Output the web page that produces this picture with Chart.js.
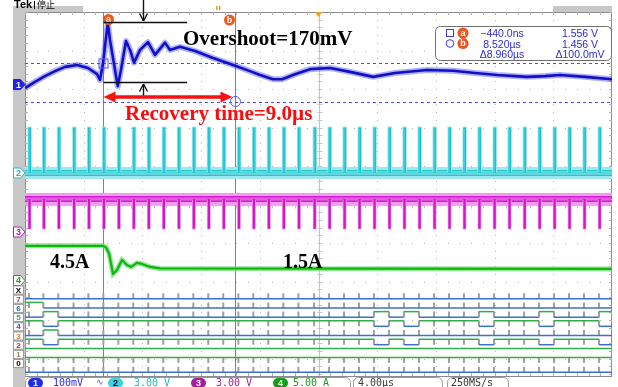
<!DOCTYPE html>
<html>
<head>
<meta charset="utf-8">
<script src="https://cdn.jsdelivr.net/npm/chart.js@4.4.0/dist/chart.umd.min.js"></script>
<style>
  html, body { margin: 0; padding: 0; background: #fff; }
  #wrap { width: 618px; height: 387px; position: relative; }
</style>
</head>
<body>
<div id="wrap"><canvas id="scope" width="618" height="387"></canvas></div>
<script>
// --- time window (µs), 4 µs/div, and the cursor readout ---
const X_MIN = -5.76, X_MAX = 34.24;
const US_PER_DIV = 4;
const CURSOR_TIMES_US = [-0.44, 8.52];
const CURSOR_LEVELS_V = [1.556, 1.456];

// CH1 output voltage (100 mV/div)
const CH1_TIME_US = [-5.76, -5.08, -4.40, -3.71, -3.03, -2.21, -1.47, -0.85, -0.65, -0.44, -0.12, 0.03, 0.56, 0.78, 1.12,
  1.40, 1.67, 2.08, 2.62, 3.10, 3.78, 4.12, 4.80, 5.83, 7.05, 8.42, 9.57, 10.26, 11.14, 11.76,
  12.64, 13.66, 15.03, 16.39, 17.96, 19.46, 21.64, 23.41, 24.91, 26.41, 28.45, 29.68, 30.70, 32.40, 34.24];
const CH1_VOLTS = [1.491, 1.507, 1.522, 1.535, 1.546, 1.551, 1.543, 1.527, 1.512, 1.556, 1.661, 1.616, 1.496, 1.538, 1.613,
  1.590, 1.557, 1.590, 1.610, 1.577, 1.609, 1.590, 1.598, 1.587, 1.569, 1.551, 1.535, 1.525, 1.514, 1.514,
  1.527, 1.540, 1.543, 1.533, 1.520, 1.530, 1.538, 1.536, 1.530, 1.525, 1.520, 1.522, 1.525, 1.520, 1.514];
const CH1_OFFSET_V = 1.50;

// CH4 load current (5 A/div)
const CH4_TIME_US = [-5.76, -0.44, -0.24, -0.03, 0.24, 0.51, 0.85, 1.19, 1.47, 1.87, 2.21, 2.76, 3.44, 34.24];
const CH4_AMPS = [4.5, 4.5, 4.3, 3.5, 0.85, 1.37, 2.67, 2.02, 1.76, 2.28, 2.15, 1.76, 1.57, 1.5];

// switching edges seen on CH2 / CH3 and the digital bus (µs)
const PULSE_TIMES_US = [-5.49, -4.51, -3.49, -2.45, -1.44, -0.42, 0.60, 1.62, 2.64, 3.66, 4.69, 5.71, 6.73,
  7.75, 8.78, 9.80, 10.82, 11.84, 12.87, 13.94, 14.96, 15.98, 17.00, 18.02, 19.04, 20.06, 21.09,
  22.11, 23.13, 24.15, 25.17, 26.20, 27.22, 28.25, 29.27, 30.29, 31.31, 32.33, 33.36];
const CH2_LEVELS_V = [0, 3.5];    // low, pulse top (3 V/div)
const CH3_LEVELS_V = [2.57, 0.3]; // rest, spike bottom (3 V/div)
const CH2_PULSE_US = 0.1;
const CH3_PULSE_US = 0.08;

// digital channels: spans (µs) where each line is high
const D_LABELS = ['0', '1', '2', '3', '4', '5', '6', '7', 'X'];
const D0_HIGH = [];
const D1_HIGH = [[X_MIN, X_MAX]];
const D2_HIGH = [[X_MIN, X_MAX]];
const D3_HIGH = [[X_MIN, -4.51], [-3.49, 18.02], [19.04, 20.06], [21.09, 25.17], [26.20, 29.27], [30.29, 33.36]];
const D4_HIGH = [[-4.51, -3.49]];
const D5_HIGH = [[X_MIN, -4.51], [-3.49, 18.02], [19.04, 20.06], [21.09, 25.17], [26.20, 29.27], [30.29, 33.36]];
const D6_HIGH = [[-4.51, -3.49], [18.02, 19.04], [20.06, 21.09], [25.17, 26.20], [29.27, 30.29], [33.36, X_MAX]];
const D7_HIGH = [[X_MIN, -4.51]];
const DX_HIGH = [];
const D_TICK_ROWS = [0, 1, 3, 4, 5, 6, 7, 8];

// annotation levels
const OVERSHOOT_PEAK_V = 1.662, OVERSHOOT_BASE_V = 1.507;
const BRACKET_END_US = 5.28, BRACKET_ARROW_US = 2.28;
const RECOVERY_ARROW_V = 1.468;

const V_DIVS = 9.4545; // visible graticule height in divisions
function chAxis(perDiv, refValue, refDivFromTop) {
  return { type: 'linear', display: false, bounds: 'data',
    min: refValue - (V_DIVS - refDivFromTop) * perDiv,
    max: refValue + refDivFromTop * perDiv };
}

const pts = (xs, ys) => xs.map((x, i) => ({ x, y: ys[i] }));
function pulses(times, width, base, peak) {
  const out = [{ x: X_MIN, y: base }];
  times.forEach(t => out.push({ x: t, y: base }, { x: t, y: peak }, { x: t + width, y: peak }, { x: t + width, y: base }));
  out.push({ x: X_MAX, y: base });
  return out;
}
function dRow(k, spans) {
  const lo = k + 0.4, hi = k + 1.0;
  const out = [{ x: X_MIN, y: lo }];
  spans.forEach(([a, b]) => out.push({ x: a, y: lo }, { x: a, y: hi }, { x: b, y: hi }, { x: b, y: lo }));
  out.push({ x: X_MAX, y: lo });
  return out;
}
function dTicks() {
  const out = [];
  D_TICK_ROWS.forEach(k => PULSE_TIMES_US.forEach(t => out.push({ x: t, y: k + 0.4 }, { x: t, y: k + 1.0 }, { x: t, y: null })));
  return out;
}

function mk(data, axis, color, width, order, extra) {
  return Object.assign({ data, yAxisID: axis, borderColor: color, borderWidth: width, order,
    pointRadius: 0, fill: false, tension: 0, spanGaps: false, borderCapStyle: 'butt' }, extra || {});
}

const D_ALL = [D0_HIGH, D1_HIGH, D2_HIGH, D3_HIGH, D4_HIGH, D5_HIGH, D6_HIGH, D7_HIGH, DX_HIGH];
const datasets = [
  mk(pts(CH1_TIME_US, CH1_VOLTS), 'y1', 'rgba(80,80,245,0.45)', 6, 30, { borderJoinStyle: 'round' }),
  mk(pts(CH1_TIME_US, CH1_VOLTS), 'y1', '#1010c4', 2.6, 10, { borderJoinStyle: 'round' }),
  mk([{ x: X_MIN, y: CH2_LEVELS_V[0] }, { x: X_MAX, y: CH2_LEVELS_V[0] }], 'y2', '#9ae9ee', 12, 30),
  mk([{ x: X_MIN, y: CH2_LEVELS_V[0] }, { x: X_MAX, y: CH2_LEVELS_V[0] }], 'y2', '#22c6cf', 6, 25),
  mk(pulses(PULSE_TIMES_US, CH2_PULSE_US, CH2_LEVELS_V[0], CH2_LEVELS_V[1]), 'y2', '#a4eaee', 3, 20),
  mk(pulses(PULSE_TIMES_US, CH2_PULSE_US, CH2_LEVELS_V[0], CH2_LEVELS_V[1]), 'y2', '#19c2cc', 1.2, 12),
  mk([{ x: X_MIN, y: CH3_LEVELS_V[0] }, { x: X_MAX, y: CH3_LEVELS_V[0] }], 'y3', '#f39af0', 12, 30),
  mk([{ x: X_MIN, y: CH3_LEVELS_V[0] }, { x: X_MAX, y: CH3_LEVELS_V[0] }], 'y3', '#d61ccf', 6, 25),
  mk(pulses(PULSE_TIMES_US, CH3_PULSE_US, CH3_LEVELS_V[0], CH3_LEVELS_V[1]), 'y3', '#f3a4f0', 2.6, 20),
  mk(pulses(PULSE_TIMES_US, CH3_PULSE_US, CH3_LEVELS_V[0], CH3_LEVELS_V[1]), 'y3', '#d018c8', 1.2, 12),
  mk(pts(CH4_TIME_US, CH4_AMPS), 'y4', 'rgba(120,225,120,0.8)', 5, 30),
  mk(pts(CH4_TIME_US, CH4_AMPS), 'y4', '#12b412', 2.2, 10, { borderJoinStyle: 'round' }),
  mk(dTicks(), 'yDig', '#a0a0a0', 2, 18),
];
D_ALL.forEach((spans, k) => {
  const hi = k + 1.0;
  datasets.push(mk(dRow(k, spans), 'yDig', '#3d6fcf', 1.5, 15, {
    segment: { borderColor: c => c.p0.parsed.x === c.p1.parsed.x ? '#a0a0a0'
      : (c.p0.parsed.y === hi ? '#2fae4a' : '#3d6fcf') }
  }));
});

const SERIF = '"Liberation Serif", "DejaVu Serif", serif';
const SANS = '"Liberation Sans", Arial, sans-serif';
const MONO = '"DejaVu Sans Mono", "Liberation Mono", monospace';

function seg(ctx, x1, y1, x2, y2) { ctx.beginPath(); ctx.moveTo(x1, y1); ctx.lineTo(x2, y2); ctx.stroke(); }
function rrect(ctx, x, y, w, h, r) {
  ctx.beginPath(); ctx.moveTo(x + r, y); ctx.arcTo(x + w, y, x + w, y + h, r); ctx.arcTo(x + w, y + h, x, y + h, r);
  ctx.arcTo(x, y + h, x, y, r); ctx.arcTo(x, y, x + w, y, r); ctx.closePath();
}
function badge(ctx, x, y, letter) {
  ctx.fillStyle = '#f0561e'; ctx.beginPath(); ctx.arc(x, y, 5.5, 0, Math.PI * 2); ctx.fill();
  ctx.fillStyle = '#fff'; ctx.font = 'bold 9px ' + SANS; ctx.textAlign = 'center'; ctx.textBaseline = 'middle';
  ctx.fillText(letter, x, y + 0.5); ctx.textAlign = 'left'; ctx.textBaseline = 'alphabetic';
}

const scopeDecor = {
  id: 'scopeDecor',
  beforeDatasetsDraw(chart) {
    const { ctx, chartArea: a, scales } = chart;
    const xs = scales.x, yd = scales.yDiv, y1 = scales.y1;
    ctx.save();
    ctx.fillStyle = '#c8c8c8';
    ctx.fillRect(13, 6, 12, 381);
    ctx.fillRect(13, 6, 70, 6);
    ctx.fillRect(553, 6, 59, 6);
    // dotted graticule
    ctx.fillStyle = '#b4b4b4';
    for (let k = 1; k < 10; k++) {
      const px = Math.round(xs.getPixelForValue(X_MIN + k * US_PER_DIV));
      for (let v = 0; v <= V_DIVS; v += 0.2) ctx.fillRect(px, Math.round(yd.getPixelForValue(v)), 1, 1);
    }
    for (let r = 1; r < 10; r++) {
      const py = Math.round(yd.getPixelForValue(r));
      for (let t = X_MIN; t <= X_MAX; t += US_PER_DIV / 5) ctx.fillRect(Math.round(xs.getPixelForValue(t)), py, 1, 1);
    }
    // centre lines with minor ticks
    ctx.strokeStyle = '#c4c4c4'; ctx.lineWidth = 1;
    const cx = Math.round(xs.getPixelForValue(X_MIN + 5 * US_PER_DIV)) + 0.5;
    seg(ctx, cx, a.top, cx, a.bottom);
    for (let v = 0; v <= V_DIVS; v += 0.2) { const py = Math.round(yd.getPixelForValue(v)) + 0.5; seg(ctx, cx - 2, py, cx + 3, py); }
    const cy = Math.round(yd.getPixelForValue(5)) + 0.5;
    seg(ctx, a.left, cy, a.right, cy);
    for (let t = X_MIN; t <= X_MAX; t += US_PER_DIV / 5) { const px = Math.round(xs.getPixelForValue(t)) + 0.5; seg(ctx, px, cy - 2, px, cy + 3); }
    // border with ticks
    ctx.strokeStyle = '#8a8a8a';
    ctx.strokeRect(a.left + 0.5, a.top + 0.5, a.right - a.left - 1, a.bottom - a.top);
    ctx.strokeStyle = '#b0b0b0';
    for (let t = X_MIN; t <= X_MAX; t += US_PER_DIV / 5) {
      const px = Math.round(xs.getPixelForValue(t)) + 0.5;
      seg(ctx, px, a.top, px, a.top + 3); seg(ctx, px, a.bottom - 3, px, a.bottom);
    }
    for (let v = 0; v <= V_DIVS; v += 0.2) {
      const py = Math.round(yd.getPixelForValue(v)) + 0.5;
      seg(ctx, a.left, py, a.left + 3, py); seg(ctx, a.right - 3, py, a.right, py);
    }
    // cursors
    ctx.strokeStyle = '#7272ff'; ctx.lineWidth = 1;
    CURSOR_TIMES_US.forEach(t => { const px = Math.round(xs.getPixelForValue(t)) + 0.5; seg(ctx, px, a.top, px, a.bottom); });
    ctx.strokeStyle = '#4b4be6'; ctx.setLineDash([3, 3]);
    CURSOR_LEVELS_V.forEach(v => { const py = Math.round(y1.getPixelForValue(v)) + 0.5; seg(ctx, a.left, py, a.right, py); });
    ctx.setLineDash([]);
    ctx.restore();
  },
  afterDatasetsDraw(chart) {
    const { ctx, chartArea: a, scales } = chart;
    const xs = scales.x, y1 = scales.y1;
    ctx.save();
    const ax = Math.round(xs.getPixelForValue(CURSOR_TIMES_US[0])) + 0.5;
    const bx = Math.round(xs.getPixelForValue(CURSOR_TIMES_US[1])) + 0.5;
    const ay = y1.getPixelForValue(CURSOR_LEVELS_V[0]), by = y1.getPixelForValue(CURSOR_LEVELS_V[1]);
    ctx.strokeStyle = '#4f4fff'; ctx.lineWidth = 1;
    ctx.strokeRect(ax - 4.5, Math.round(ay) - 4, 9, 9);
    ctx.beginPath(); ctx.arc(bx, by, 5, 0, Math.PI * 2); ctx.stroke();

    // trigger markers
    ctx.fillStyle = '#f0a028';
    ctx.fillRect(216, 6, 1.5, 4); ctx.fillRect(219, 6, 1.5, 4);
    const cx = xs.getPixelForValue(X_MIN + 5 * US_PER_DIV);
    ctx.beginPath(); ctx.moveTo(cx - 4, a.top); ctx.lineTo(cx + 4, a.top); ctx.lineTo(cx, a.top + 5); ctx.closePath(); ctx.fill();
    badge(ctx, ax + 5, 19.5, 'a');
    badge(ctx, bx - 6, 20, 'b');

    // overshoot bracket
    const topY = Math.round(y1.getPixelForValue(OVERSHOOT_PEAK_V)) + 0.5;
    const botY = Math.round(y1.getPixelForValue(OVERSHOOT_BASE_V)) + 0.5;
    const endX = xs.getPixelForValue(BRACKET_END_US), arX = Math.round(xs.getPixelForValue(BRACKET_ARROW_US)) + 0.5;
    ctx.strokeStyle = '#111'; ctx.lineWidth = 1.4;
    seg(ctx, ax, topY, endX, topY); seg(ctx, ax, botY, endX, botY);
    seg(ctx, arX, 0, arX, topY - 1.5);
    seg(ctx, arX - 4, topY - 9, arX, topY - 1.5); seg(ctx, arX + 4, topY - 9, arX, topY - 1.5);
    const ry = y1.getPixelForValue(RECOVERY_ARROW_V);
    seg(ctx, arX, ry, arX, botY + 1.5);
    seg(ctx, arX - 4, botY + 9, arX, botY + 1.5); seg(ctx, arX + 4, botY + 9, arX, botY + 1.5);

    // recovery arrow
    const rx0 = ax, rx1 = bx - 3;
    ctx.strokeStyle = '#ff0e0e'; ctx.fillStyle = '#ff0e0e'; ctx.lineWidth = 3.5;
    seg(ctx, rx0 + 8, ry, rx1 - 8, ry);
    ctx.beginPath(); ctx.moveTo(rx0, ry); ctx.lineTo(rx0 + 12, ry - 5.5); ctx.lineTo(rx0 + 12, ry + 5.5); ctx.closePath(); ctx.fill();
    ctx.beginPath(); ctx.moveTo(rx1, ry); ctx.lineTo(rx1 - 12, ry - 5.5); ctx.lineTo(rx1 - 12, ry + 5.5); ctx.closePath(); ctx.fill();

    // big labels
    ctx.font = 'bold 21px ' + SERIF;
    ctx.fillStyle = '#000'; ctx.fillText('Overshoot=170mV', 183, 45);
    ctx.fillStyle = '#ff0a0a'; ctx.fillText('Recovery time=9.0µs', 125, 120);
    ctx.fillStyle = '#000'; ctx.font = 'bold 20px ' + SERIF;
    ctx.fillText('4.5A', 50, 268); ctx.fillText('1.5A', 283, 268);

    // cursor readout
    ctx.fillStyle = '#fff'; ctx.strokeStyle = '#707070'; ctx.lineWidth = 1;
    rrect(ctx, 435.5, 26.5, 176, 34, 5); ctx.fill(); ctx.stroke();
    ctx.strokeStyle = '#3c3ce0';
    ctx.strokeRect(446.5, 29.5, 7, 7);
    ctx.beginPath(); ctx.arc(450, 43.5, 3.8, 0, Math.PI * 2); ctx.stroke();
    badge(ctx, 463, 33, 'a'); badge(ctx, 463, 43.5, 'b');
    ctx.fillStyle = '#2b2bd6'; ctx.font = '10.5px ' + SANS; ctx.textAlign = 'center';
    ctx.fillText('\u2212440.0ns', 502, 37); ctx.fillText('1.556 V', 580, 37);
    ctx.fillText('8.520µs', 502, 47.5); ctx.fillText('1.456 V', 580, 47.5);
    ctx.fillText('\u03948.960µs', 502, 58); ctx.fillText('\u0394100.0mV', 580, 58);
    ctx.textAlign = 'left';

    // top-left banner
    ctx.fillStyle = '#000'; ctx.font = 'bold 11px ' + SANS; ctx.fillText('Tek', 14, 8);
    ctx.font = '9px "Noto Sans CJK SC"'; ctx.fillText('停止', 37, 8);
    ctx.fillRect(34, 1, 1, 8);

    // channel ground markers
    const marker = (y, label, stroke, fill, txt) => {
      ctx.beginPath(); ctx.moveTo(13.5, y - 5); ctx.lineTo(20.5, y - 5); ctx.lineTo(25, y); ctx.lineTo(20.5, y + 5); ctx.lineTo(13.5, y + 5); ctx.closePath();
      ctx.fillStyle = fill; ctx.fill(); ctx.strokeStyle = stroke; ctx.lineWidth = 1; ctx.stroke();
      ctx.fillStyle = txt; ctx.font = 'bold 9px ' + SANS; ctx.textAlign = 'center'; ctx.textBaseline = 'middle';
      ctx.fillText(label, 18.5, y + 0.5); ctx.textAlign = 'left'; ctx.textBaseline = 'alphabetic';
    };
    marker(scales.y1.getPixelForValue(CH1_OFFSET_V), '1', '#1a1ae0', '#2424e8', '#fff');
    marker(scales.y2.getPixelForValue(0), '2', '#1cc0cc', '#fff', '#1cb4c0');
    marker(scales.y3.getPixelForValue(0), '3', '#b020b0', '#fff', '#b020b0');
    marker(scales.y4.getPixelForValue(0), '4', '#18a018', '#fff', '#18a018');
    const dCol = ['#000', '#a08060', '#e02020', '#e08030', '#4848e0', '#5a9a5a', '#2d6db0', '#a0407a', '#000'];
    D_LABELS.forEach((lab, k) => {
      const y = scales.yDig.getPixelForValue(k + 1.35);
      ctx.fillStyle = '#fff'; ctx.fillRect(13.5, y - 4, 10, 8);
      ctx.strokeStyle = '#9a9a9a'; ctx.strokeRect(13.5, y - 4, 10, 8);
      ctx.fillStyle = dCol[k]; ctx.font = 'bold 8px ' + SANS; ctx.textAlign = 'center'; ctx.textBaseline = 'middle';
      ctx.fillText(lab, 18.5, y + 0.5); ctx.textAlign = 'left'; ctx.textBaseline = 'alphabetic';
    });

    // status bar
    ctx.strokeStyle = '#9a9a9a'; ctx.lineWidth = 1;
    rrect(ctx, 25.5, 377.5, 325, 20, 5); ctx.stroke();
    rrect(ctx, 353.5, 377.5, 89, 20, 5); ctx.stroke();
    rrect(ctx, 447.5, 377.5, 61, 20, 5); ctx.stroke();
    const pill = (x, col, lab, txt) => {
      ctx.fillStyle = col; rrect(ctx, x, 378, 15, 10, 5); ctx.fill();
      ctx.fillStyle = txt; ctx.font = 'bold 9px ' + SANS; ctx.textAlign = 'center'; ctx.fillText(lab, x + 7.5, 386); ctx.textAlign = 'left';
    };
    pill(28, '#1e2ee6', '1', '#fff'); pill(108, '#3ad4dc', '2', '#003'); pill(191, '#a4209e', '3', '#fff'); pill(273, '#12a012', '4', '#fff');
    ctx.font = '10px ' + MONO;
    ctx.fillStyle = '#2b2bd6'; ctx.fillText('100mV', 53, 386);
    ctx.fillStyle = '#5a5ad0'; ctx.font = '9px ' + SANS; ctx.fillText('\u223f', 96, 385);
    ctx.font = '10px ' + MONO;
    ctx.fillStyle = '#1fb8c6'; ctx.fillText('3.00 V', 134, 386);
    ctx.fillStyle = '#a4209e'; ctx.fillText('3.00 V', 216, 386);
    ctx.fillStyle = '#12a012'; ctx.fillText('5.00 A', 293, 386);
    ctx.fillStyle = '#333'; ctx.fillText('4.00µs', 358, 386); ctx.fillText('250MS/s', 451, 386);
    ctx.restore();
  }
};

new Chart(document.getElementById('scope'), {
  type: 'line',
  data: { datasets },
  options: {
    responsive: false,
    animation: false,
    devicePixelRatio: 1,
    layout: { padding: { left: 25, top: 12, right: 6, bottom: 11 } },
    plugins: { legend: { display: false }, tooltip: { enabled: false } },
    elements: { point: { radius: 0 }, line: { tension: 0 } },
    scales: {
      x: { type: 'linear', display: false, bounds: 'data', min: X_MIN, max: X_MAX },
      yDiv: { type: 'linear', display: false, bounds: 'data', reverse: true, min: 0, max: V_DIVS },
      y1: chAxis(0.1, CURSOR_LEVELS_V[0], 1.325),
      y2: chAxis(3, 0, 4.182),
      y3: chAxis(3, 0, 5.714),
      y4: chAxis(5, 0, 6.974),
      yDig: { type: 'linear', display: false, bounds: 'data', min: 0, max: 39.57 }
    }
  },
  plugins: [scopeDecor]
});
</script>
</body>
</html>
